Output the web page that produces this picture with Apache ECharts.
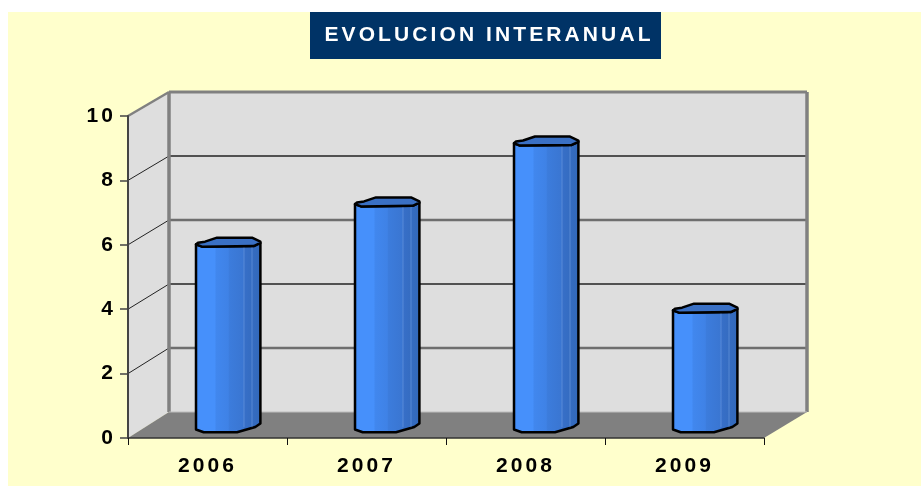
<!DOCTYPE html>
<html>
<head>
<meta charset="utf-8">
<style>html,body{margin:0;padding:0;background:#fff}#c{width:921px;height:486px}</style>
<script src="https://cdn.jsdelivr.net/npm/echarts@6/dist/echarts.min.js"></script>
</head>
<body>
<div id="c"></div>
<script>
const titleText = 'EVOLUCION INTERANUAL';
const categories = ['2006', '2007', '2008', '2009'];
const values = [5.68, 6.93, 8.82, 3.63];
const yTicks = [0, 2, 4, 6, 8, 10];

// Letter spacing seen in the reference's text
const nativeFill = CanvasRenderingContext2D.prototype.fillText;
CanvasRenderingContext2D.prototype.fillText = function () {
  this.letterSpacing = '3.1px';
  return nativeFill.apply(this, arguments);
};

const DEPTH_X = 41, DEPTH_X_RIGHT = 43, DEPTH_Y_FLOOR = 26, DEPTH_Y_TOP = 24, BAR_DEPTH_Y = 12.75;
const wallGridStyles = { 2: ['#6e6e6e', 2.5], 4: ['#222', 1.5], 6: ['#6e6e6e', 2.5], 8: ['#222', 1.5] };
const topShape = [[-32,2],[-30,0.3],[-23,-0.7],[-11,-4.7],[24,-4.7],[32.4,-0.7],[32.4,0.6],[25.7,3.7],[-26,4.3]];
const bottomShape = [[32.4,-1.7],[27.3,1.7],[9,7],[-24.3,7],[-32,4.3]];

function renderWalls(params, api) {
  const band = api.size([1, 0])[0];
  const c0 = api.coord([0, 0]), c3 = api.coord([3, 0]), t0 = api.coord([0, 10]);
  const left = c0[0] - band / 2, right = c3[0] + band / 2;
  const f00 = [left, c0[1]], f10 = [right, c0[1]], f01 = [left, t0[1]];
  const back = p => {
    const k = (c0[1] - p[1]) / (c0[1] - t0[1]);
    const dx = p[0] === left ? DEPTH_X : DEPTH_X_RIGHT;
    return [p[0] + dx, p[1] - (DEPTH_Y_FLOOR + (DEPTH_Y_TOP - DEPTH_Y_FLOOR) * k)];
  };
  const b00 = back(f00), b10 = back(f10), b01 = back(f01), b11 = [b10[0], b01[1]];
  const kids = [];
  const poly = (pts, fill) => kids.push({
    type: 'polygon', shape: { points: pts }, style: { fill: fill }
  });
  const line = (a, b, stroke, lw) => kids.push({
    type: 'line', shape: { x1: a[0], y1: a[1], x2: b[0], y2: b[1] },
    style: { stroke: stroke, lineWidth: lw }
  });
  poly([b00, b10, b11, b01], '#dedede');
  poly([f00, b00, b01, f01], '#dedede');
  poly([f00, f10, b10, b00], '#808080');
  yTicks.filter(t => t > 0 && t < 10).forEach(t => {
    const y = api.coord([0, t])[1];
    const p = [left, y], q = back(p);
    const s = wallGridStyles[t];
    line(p, q, '#222', 1);
    line(q, [b10[0], q[1]], s[0], s[1]);
  });
  line(f01, b01, '#808080', 2.5);
  line(b01, b11, '#808080', 3);
  line(b01, b00, '#808080', 3.5);
  line(b11, b10, '#808080', 3.5);
  line(b00, b10, '#bdbdbd', 1);
  return { type: 'group', children: kids };
}

function renderBar(params, api) {
  const i = api.value(0), v = api.value(1);
  const base = api.coord([i, 0]), top = api.coord([i, v]);
  const cx = base[0] + DEPTH_X / 2;
  const by = base[1] - BAR_DEPTH_Y, ty = top[1] - BAR_DEPTH_Y;
  const topPts = topShape.map(p => [cx + p[0], ty + p[1]]);
  const frontEdge = [topPts[0], topPts[8], topPts[7], topPts[6]];
  const body = frontEdge.concat(bottomShape.map(p => [cx + p[0], by + p[1]]));
  const grad = new echarts.graphic.LinearGradient(0, 0, 1, 0, [
    { offset: 0, color: '#3f84ea' }, { offset: 0.06, color: '#4690fb' },
    { offset: 0.3, color: '#4690fb' }, { offset: 0.32, color: '#4187ee' },
    { offset: 0.5, color: '#3f82e6' }, { offset: 0.52, color: '#3c7cdc' },
    { offset: 0.72, color: '#3a76d2' }, { offset: 0.74, color: '#376fc8' },
    { offset: 1, color: '#3268b8' }
  ]);
  const highlight = dx => ({
    type: 'line', shape: { x1: cx + dx, y1: ty + 4, x2: cx + dx, y2: by + 2 },
    style: { stroke: 'rgba(150,190,245,0.35)', lineWidth: 1 }
  });
  return {
    type: 'group',
    children: [
      { type: 'polygon', shape: { points: body }, style: { fill: grad, stroke: '#000', lineWidth: 2.5, lineJoin: 'round' } },
      highlight(16), highlight(24),
      { type: 'polygon', shape: { points: topPts }, style: { fill: '#3a70c4', stroke: '#000', lineWidth: 2.5, lineJoin: 'round' } }
    ]
  };
}

const chart = echarts.init(document.getElementById('c'), null, { renderer: 'canvas' });
chart.setOption({
  animation: false,
  backgroundColor: '#fff',
  graphic: [
    { type: 'rect', z: -100, silent: true, shape: { x: 8, y: 12, width: 913, height: 474 }, style: { fill: '#ffffcc' } },
    { type: 'rect', z: 5, silent: true, shape: { x: 310, y: 12, width: 351, height: 47 }, style: { fill: '#003366' } }
  ],
  title: {
    text: titleText, left: 484, top: 20, textAlign: 'center', z: 6,
    textStyle: { color: '#fff', fontFamily: 'Liberation Sans', fontWeight: 'bold', fontSize: 21 }
  },
  grid: { left: 128, right: 157, top: 116, height: 322, containLabel: false },
  xAxis: {
    type: 'category', data: categories, boundaryGap: true,
    axisLine: { onZero: false, lineStyle: { color: '#333', width: 1.5 } },
    axisTick: { show: true, alignWithLabel: false, length: 7, lineStyle: { color: '#111', width: 1 } },
    axisLabel: { show: true, margin: 18, color: '#000', fontFamily: 'Liberation Sans', fontWeight: 'bold', fontSize: 21 }
  },
  yAxis: {
    type: 'value', min: 0, max: 10, interval: 2,
    axisLine: { show: true, lineStyle: { color: '#444', width: 2 } },
    axisTick: { show: true, length: 8, lineStyle: { color: '#444', width: 1.5 } },
    splitLine: { show: false },
    axisLabel: { margin: 12, color: '#000', fontFamily: 'Liberation Sans', fontWeight: 'bold', fontSize: 21,
      formatter: v => yTicks.includes(v) ? String(v) : '' }
  },
  series: [
    { type: 'custom', z: -5, silent: true, clip: false, renderItem: renderWalls, data: [[0, 0]], encode: { x: 0, y: 1 } },
    { type: 'custom', z: 3, silent: true, clip: false, renderItem: renderBar,
      data: values.map((v, i) => [i, v]), encode: { x: 0, y: 1 } }
  ]
});
</script>
</body>
</html>
